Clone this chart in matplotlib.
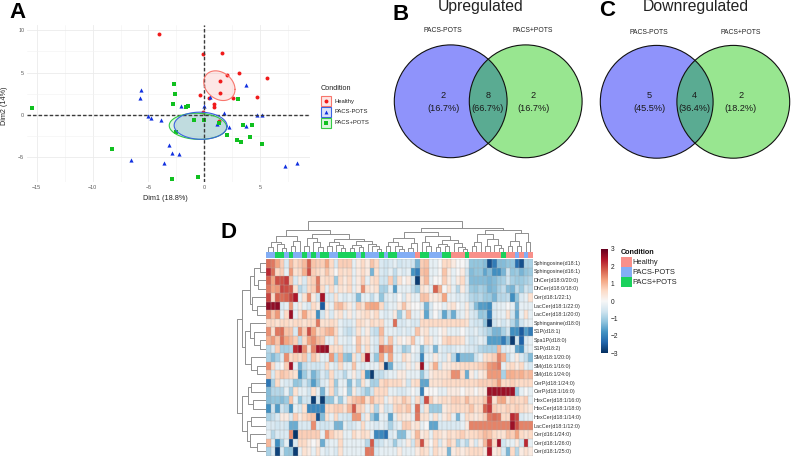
import numpy as np
import matplotlib
matplotlib.use("Agg")
import matplotlib.pyplot as plt
from matplotlib.colors import ListedColormap, FuncNorm
from matplotlib.patches import Circle, Rectangle

plt.rcParams['font.family'] = ['Liberation Sans', 'DejaVu Sans']

W, H = 792, 457

#%% PANEL A DATA
healthy_x = [-4.1, -0.1, 1.6, 3.1, 2.05, 5.6, 1.4, 1.4, -0.4, 0.4, 2.6, 4.7, 0.9, 0.9, -0.1, 1.35]
healthy_y = [9.5, 7.2, 7.35, 4.9, 4.7, 4.35, 4.05, 2.6, 2.3, 2.0, 2.0, 2.15, 1.35, 0.9, 0.3, -0.7]
minus_x = [-5.65, -5.75, -2.05, 0, 0.5, 3.75, 1.75, 4.7, 5.15, -5, -4.8, -3.9, 1.15, 2.25, 3.7,
           -3.2, -2.85, -2.3, -3.6, -6.6, 7.2, 8.3]
minus_y = [2.95, 2.0, 1.0, 1.0, 2.1, 3.5, 0.25, 0, 0.05, -0.1, -0.35, -0.6, -1.1, -1.4, -1.25,
           -3.55, -4.5, -4.6, -5.65, -5.3, -6.0, -5.7]
plus_x = [-15.45, -2.7, -2.6, -2.8, -1.6, -1.45, -0.95, 0, 1.35, 3.0, 3.5, 4.25, -2.55, 2.05,
          4.05, 2.9, 3.3, 5.2, -8.3, -0.55, -2.9]
plus_y = [0.85, 3.7, 2.5, 1.25, 0.95, 1.0, -0.6, -0.6, -1.0, 1.85, -1.2, -1.2, -2.05, -2.35,
          -2.55, -2.9, -3.2, -3.45, -4.05, -7.35, -7.5]
# centre x, centre y, half width, half height, tilt
ell_healthy = [1.35, 3.45, 1.4, 1.75, -0.25]
ell_minus = [-0.33, -1.27, 2.37, 1.6, -0.03]
ell_plus = [-0.57, -1.34, 2.57, 1.54, -0.06]

#%% VENN DATA
venn_up = [2, 8, 2]
venn_down = [5, 4, 2]

#%% HEATMAP DATA (tenths of a z score)
row_names = ['Sphingosine(d18:1)', 'Sphingosine(d16:1)', 'DhCer(d18:0/20:0)', 'DhCer(d18:0/18:0)',
             'Cer(d18:1/22:1)', 'LacCer(d18:1/22:0)', 'LacCer(d18:1/20:0)', 'Sphinganine(d18:0)',
             'S1P(d18:1)', 'Spa1P(d18:0)', 'S1P(d18:2)', 'SM(d18:1/20:0)', 'SM(d16:1/16:0)',
             'SM(d16:1/24:0)', 'CerP(d18:1/24:0)', 'CerP(d18:1/16:0)', 'HexCer(d18:1/16:0)',
             'HexCer(d18:1/18:0)', 'HexCer(d18:1/14:0)', 'LacCer(d18:1/12:0)', 'Cer(d16:1/24:0)',
             'Cer(d18:1/26:0)', 'Cer(d18:1/25:0)']
heat_rows = [
 [13,12,8,4,-2,6,3,4,6,14, 5,4,4,8,3,-2,4,4,4,-1, 1,3,1,5,3,-2,-3,-2,-1,-3, -2,-2,-3,-10,4,5,-1,-1,0,3, 3,1,0,0,-1,-8,-8,-8,-9,-25, -18,-9,-9,-8,-8,-20,-25,-6,-6],
 [20,13,3,4,-1,9,2,3,7,16, 4,3,2,5,2,0,3,2,3,-1, 1,3,1,-10,2,-2,-3,-1,-4,-1, -2,-1,-14,-18,5,6,-1,-1,0,5, 1,-1,0,1,-3,-9,-8,-8,-12,-9, -15,-15,-10,-3,-8,-7,-10,-8,-7],
 [14,8,16,16,18,5,-2,1,-2,3, 4,12,2,3,3,-7,3,1,3,-1, 1,4,-1,2,3,-3,-3,4,-5,2, 0,1,-3,-28,3,6,-1,0,0,4, 1,-1,1,3,-2,-9,-9,-9,-9,-10, -9,-7,-6,-3,-6,-7,-7,-6,-5],
 [12,8,9,17,16,15,2,-5,-3,3, 4,12,3,-1,3,-1,2,1,3,-1, 1,10,2,1,2,-6,-6,-1,-13,-1, -1,-1,-4,-7,2,1,-1,14,7,0, 2,-1,-5,1,-2,-7,-8,-6,-7,-10, -9,-6,-4,-9,-10,-4,-7,-3,-4],
 [17,3,14,13,14,17,22,-1,2,10, 1,-3,23,-2,-2,2,-1,-2,-1,-2, -9,-1,-1,-4,-1,-8,-2,-1,-2,0, -2,1,-1,-1,5,5,1,1,2,8, -1,-1,-2,-1,-2,-5,-6,-5,-7,-7, -10,-5,-5,-4,-15,-8,-2,-1,2],
 [26,25,26,-2,-1,9,-1,1,-1,-2, 3,1,-23,1,-1,5,6,3,1,-1, 4,2,7,8,8,3,-3,-1,-1,1, 5,1,0,0,-1,-10,-2,0,0,-1, 1,2,0,-1,1,-3,-9,-13,-13,-15, -2,-1,-1,0,-1,-10,-1,-1,-1],
 [10,5,9,-1,3,24,-1,2,8,3, 2,-15,-3,1,-2,1,2,-1,1,-1, 1,2,3,1,3,-1,-2,-1,1,-7, -1,5,-1,-1,1,-12,-2,0,-2,-12, -4,-11,-2,-1,1,-2,-3,-8,-7,-17, -2,-1,-1,2,-3,-12,-1,2,-1],
 [3,3,2,3,3,2,3,3,2,3, 3,12,2,2,3,2,-1,-2,-2,-1, 3,2,1,3,2,3,-1,-1,13,-2, -2,-1,-2,-2,3,3,3,3,3,3, 3,3,3,3,2,-2,-3,-3,-8,-28, -3,-1,-3,-1,-5,-10,-3,-1,-1],
 [10,2,12,13,5,5,-2,10,4,16, 8,3,4,6,7,3,-1,-3,-4,-2, 2,-1,1,-3,-4,6,-1,-1,-1,-2, -1,-2,-1,5,1,2,-1,-1,0,1, -1,-1,-1,0,-1,-2,-1,-3,-4,-6, -10,-10,-6,-3,-15,-15,-23,-13,-18],
 [7,9,5,13,8,6,4,-4,3,8, 10,6,5,-1,-1,3,-1,-1,-2,0, 5,1,2,-1,-2,4,-1,5,-1,1, 0,1,5,-1,0,3,1,-1,0,3, 4,3,3,2,-1,-3,-2,-1,-2,-13, -13,-13,-18,-10,-28,-3,-22,-2,-1],
 [-5,-2,4,-6,-6,-5,20,24,10,2, 11,23,24,25,3,2,3,-2,-2,-1, 5,-1,3,-1,-3,13,9,10,-1,-2, -7,-5,0,-1,-9,-3,-1,-10,-1,-2, -3,-2,-1,-1,-2,-2,-3,-5,-6,-6, -6,6,-2,-1,-1,-12,-15,-2,-1],
 [-6,-9,-6,-2,10,3,4,3,5,-3, 5,2,-1,-1,9,-5,6,-8,-9,2, -2,4,23,-2,-8,8,-1,8,-1,-1, 3,1,-1,-2,-16,-1,-1,1,-1,-2, 1,-5,-16,-9,-9,-9,-3,-1,2,3, 4,11,7,-4,-1,1,-2,-4,-9],
 [10,3,-1,0,4,23,-1,-10,-4,-2, -3,-3,-2,3,-1,-2,3,-1,-1,5, -1,-2,-1,-1,-1,3,-26,-11,-1,-2, -1,1,-1,1,24,-1,2,7,-2,1, 1,2,2,3,3,3,3,4,5,9, 10,12,-1,2,3,1,3,-1,-2],
 [5,-2,3,5,4,3,2,-15,-7,-3, -10,-6,-2,-4,3,-2,-2,-5,-1,1, -2,3,-14,-28,-4,-4,-2,-1,-1,1, 1,-1,-1,-1,-8,-2,1,2,2,2, 3,10,10,3,-11,1,-1,1,2,9, 9,9,-6,7,7,6,7,5,6],
 [-19,-6,3,-1,-2,-2,-8,-7,-3,-6, -13,-7,-2,-1,3,-7,-1,-1,-9,-1, -6,2,-1,-6,-6,3,4,3,3,3, 1,-3,2,3,-12,-12,2,2,2,3, 3,3,3,3,3,3,3,4,4,4, 5,9,3,3,4,3,3,3,3],
 [-9,-5,-5,-5,-1,-6,2,-1,-1,-3, 2,-1,-10,-1,3,-5,-1,0,-7,1, -2,-4,-7,-3,3,3,3,-1,-1,-2, -2,-1,0,-1,-17,0,0,0,-1,-1, 1,1,1,0,1,1,0,1,1,24, 24,24,24,24,24,-7,-1,0,-1],
 [-9,-8,-8,-9,-7,5,-1,-8,-3,-3, -28,-3,-28,-8,-8,-1,-7,-1,3,5, 6,8,2,6,3,3,-1,1,3,2, 5,3,-1,3,-4,16,4,1,2,3, 2,4,4,3,6,3,3,3,5,18, 2,7,8,2,4,3,3,4,-1],
 [-15,-3,-13,-3,-5,-14,-1,-2,2,-16, -16,-16,-16,3,3,4,4,2,6,15, 4,3,-1,2,-5,1,-3,-2,3,4, 3,5,-1,13,-2,2,-7,-7,-7,1, 2,3,3,3,3,5,2,3,14,18, 4,3,3,4,3,4,3,2,1],
 [-6,-4,-2,1,1,-2,4,1,3,4, 5,-25,-9,2,-1,3,-2,-2,-3,9, 9,-2,1,-7,-12,-1,-1,-12,-1,2, 1,1,-1,12,2,2,-1,2,-1,1, 3,-1,-10,-1,3,2,1,2,4,12, 13,12,3,3,20,17,-2,-1,-1],
 [-2,-2,-3,-2,-3,-11,-11,-2,-2,-2, 10,-2,-3,-3,-2,-10,-10,-1,-3,-2, -1,3,-1,-1,-2,-1,-2,-6,-2,-1, 4,4,1,2,-1,0,-12,-12,-2,-2, -2,-2,-2,-1,1,11,11,11,11,11, 11,11,11,11,24,16,11,11,11],
 [-1,-5,-2,-2,-2,10,-29,4,4,4, 4,4,-1,9,4,2,2,-1,-1,3, 1,3,2,-1,-16,-16,-20,-2,-1,-9, -9,-1,1,6,1,2,-1,3,2,1, 3,2,3,4,2,3,3,4,6,5, 3,2,2,5,4,8,3,2,3],
 [6,-1,-15,-6,-1,-26,-2,3,3,1, 0,1,-11,-2,-1,-1,3,-1,-1,-1, -1,-1,-5,15,-4,-3,-1,-2,-7,-2, -1,1,-3,4,16,2,0,3,-2,1, 4,2,-6,-2,-5,1,-2,1,6,16, 3,23,-3,-1,-1,1,-3,20,-1],
 [-6,-2,-27,-2,-8,-8,-28,-1,2,1, -1,2,-1,-2,-1,-2,2,-1,-1,-1, -1,-1,12,12,-2,-1,-1,-1,-1,1, -1,-1,-1,1,3,2,-1,3,1,1, -10,1,2,1,2,3,3,3,1,22, 1,2,-2,-10,3,-5,1,2,1],
]
# 0 healthy, 1 PACS-POTS, 2 PACS+POTS
col_groups = [1,1,2,2,1,2,1,1,2,1, 2,1,2,2,1,1,2,2,2,2, 1,2,1,1,1,2,1,2,2,1,
              1,1,1,0,2,2,1,1,1,2, 2,0,0,0,2,0,0,0,0,0, 0,0,2,0,0,1,0,1,0]
group_names = ['Healthy', 'PACS-POTS', 'PACS+POTS']
group_colors = ['#f8908a', '#83aef5', '#1ad15c']

# merge trees, (height, left, right), 0 is a leaf
col_a = (.5, (.3, (.15, 0, 0), (.25, 0, (.12, 0, 0))), (.35, (.2, 0, 0), 0))
col_b = (.45, (.2, 0, 0), (.3, 0, (.15, 0, 0)))
col_d = (.42, (.3, (.2, 0, 0), (.22, 0, (.12, 0, 0))),
         (.34, (.22, (.12, 0, 0), (.16, 0, 0)), (.25, 0, (.18, 0, (.1, 0, 0)))))
col_e = (.45, (.3, (.18, 0, 0), (.2, 0, (.1, 0, 0))), (.28, (.14, 0, 0), 0))
col_f = (.5, (.3, 0, (.2, 0, 0)), (.38, (.24, (.15, 0, 0), (.18, 0, 0)), (.28, 0, (.16, 0, (.1, 0, 0)))))
col_r = (.68, (.55, (.3, (.2, 0, 0), 0), (.4, (.18, 0, 0), (.22, 0, (.12, 0, 0)))),
         (.6, (.35, (.2, 0, 0), (.18, 0, 0)), (.3, 0, 0)))
col_tree = (.97, (.68, col_a, (.55, col_b, col_d)), (.75, (.62, col_e, col_f), col_r))
row_top = (.8, (.55, (.4, (.2, 0, 0), (.25, 0, 0)), (.45, 0, (.3, 0, 0))),
           (.7, (.55, 0, (.4, 0, (.2, 0, 0))), (.5, 0, (.3, 0, 0))))
row_bottom = (.8, (.6, (.5, 0, 0), (.44, 0, 0)), (.65, (.5, 0, 0), (.55, 0, (.3, 0, 0))))
row_tree = (1, row_top, row_bottom)


def px_axes(x0, y0, x1, y1):
    return fig.add_axes([x0 / W, 1 - y1 / H, (x1 - x0) / W, (y1 - y0) / H])


def ellipse_xy(e):
    t = np.linspace(0, 2 * np.pi, 200)
    return e[0] + e[2] * np.cos(t), e[1] + e[3] * np.cos(t + np.arccos(e[4]))


def draw_tree(ax, node, counter, sideways):
    if node == 0:
        counter[0] += 1
        return counter[0] - 0.5, 0
    h, left, right = node
    p0, h0 = draw_tree(ax, left, counter, sideways)
    p1, h1 = draw_tree(ax, right, counter, sideways)
    pos = [p0, p0, p1, p1]
    hts = [h0, h, h, h1]
    if sideways:
        ax.plot(hts, pos, color='#8f8f8f', lw=0.7)
    else:
        ax.plot(pos, hts, color='#8f8f8f', lw=0.7)
    return (p0 + p1) / 2, h


# pale cells in the picture read stronger than a plain RdBu, so stretch the middle
def stretch(v):
    v = np.asarray(v, dtype=float)
    return np.sign(v) * np.abs(v) ** 0.7


def unstretch(v):
    v = np.asarray(v, dtype=float)
    return np.sign(v) * np.abs(v) ** (1 / 0.7)


fig = plt.figure(figsize=(W / 100, H / 100), dpi=100)
canvas = fig.add_axes([0, 0, 1, 1], zorder=5)
canvas.set_xlim(0, W)
canvas.set_ylim(H, 0)
canvas.axis('off')

#%% PANEL A
ax = px_axes(27, 25, 310, 182)
ax.set_xlim(-15.87, 9.46)
ax.set_ylim(-7.9, 10.6)
ax.set_xticks([-15, -10, -5, 0, 5])
ax.set_yticks([-5, 0, 5, 10])
ax.set_xticks([-12.5, -7.5, -2.5, 2.5, 7.5], minor=True)
ax.set_yticks([-2.5, 2.5, 7.5], minor=True)
ax.grid(which='major', color='#ebebeb', lw=0.6)
ax.grid(which='minor', color='#f2f2f2', lw=0.4)
ax.set_axisbelow(True)
for s in ax.spines.values():
    s.set_visible(False)
ax.tick_params(which='both', length=0)
ax.tick_params(axis='both', labelsize=3.9, labelcolor='#5a5a5a', pad=2)
ax.axhline(0, color='#3a3a3a', lw=1, ls=(0, (2.5, 1.5)))
ax.axvline(0, color='#3a3a3a', lw=1, ls=(0, (2.5, 1.5)))
for e, c in [(ell_healthy, '#f8766d'), (ell_plus, '#35c944'), (ell_minus, '#3b62e0')]:
    ex, ey = ellipse_xy(e)
    ax.fill(ex, ey, color=c, alpha=0.17, lw=0)
    ax.plot(ex, ey, color=c, lw=0.8)
ax.scatter(healthy_x, healthy_y, marker='o', s=8, color='#f01a1a', lw=0)
ax.scatter(minus_x, minus_y, marker='^', s=9, color='#1030e0', lw=0)
ax.scatter(plus_x, plus_y, marker='s', s=7, color='#10c020', lw=0)
canvas.text(165, 198, 'Dim1 (18.8%)', fontsize=5.2, color='#222222', ha='center', va='center')
canvas.text(4.5, 106, 'Dim2 (14%)', fontsize=5.2, color='#222222', ha='center', va='center', rotation=90)

canvas.text(320.7, 89, 'Condition', fontsize=5.2, color='#222222', va='center')
key_marks = [('o', '#f01a1a', '#f8766d'), ('^', '#1030e0', '#3b62e0'), ('s', '#10c020', '#35c944')]
for i, (m, c, edge) in enumerate(key_marks):
    y = 101 + i * 10.9
    canvas.add_patch(Rectangle((321.3, y - 5), 9.6, 10, fc='white', ec=edge, lw=0.8))
    canvas.add_patch(Rectangle((321.3, y - 5), 9.6, 10, fc=edge, alpha=0.17, lw=0))
    canvas.scatter([326], [y], marker=m, s=8, color=c, lw=0)
    canvas.text(334.7, y, group_names[i], fontsize=4.2, color='#222222', va='center')

#%% PANELS B AND C
venn_panels = [(venn_up, 450.7, 525.7, 101.3, 'Upregulated', 480.7, [443, 488, 533], 443, 533, 31),
               (venn_down, 656.7, 733.3, 101.8, 'Downregulated', 696, [649, 694.7, 740.7], 649, 740.7, 32)]
for counts, cx0, cx1, cy, title, tx, lab_x, name0, name1, name_y in venn_panels:
    left = Circle((cx0, cy), 56.4, fc='#8f93fb', ec='none')
    right = Circle((cx1, cy), 56.4, fc='#98e690', ec='none')
    canvas.add_patch(left)
    canvas.add_patch(right)
    both = Circle((cx0, cy), 56.4, fc='#5aab92', ec='none')
    canvas.add_patch(both)
    both.set_clip_path(Circle((cx1, cy), 56.4, transform=canvas.transData))
    canvas.add_patch(Circle((cx0, cy), 56.4, fc='none', ec='#111111', lw=0.8))
    canvas.add_patch(Circle((cx1, cy), 56.4, fc='none', ec='#111111', lw=0.8))
    for n, x in zip(counts, lab_x):
        canvas.text(x, 95, str(n), fontsize=6.6, color='#1a1a1a', ha='center', va='center')
        canvas.text(x, 108.7, '(%.1f%%)' % (100 * n / sum(counts)), fontsize=6.6,
                    color='#1a1a1a', ha='center', va='center')
    canvas.text(name0, name_y, 'PACS-POTS', fontsize=4.9, color='#222222', ha='center', va='center')
    canvas.text(name1, name_y, 'PACS+POTS', fontsize=4.9, color='#222222', ha='center', va='center')
    canvas.text(tx, 7, title, fontsize=11.3, color='#222222', ha='center', va='center')

#%% PANEL D
heat = np.array(heat_rows) / 10
n_rows, n_cols = heat.shape
cmap = plt.get_cmap('RdBu_r')
heat_norm = FuncNorm((stretch, unstretch), vmin=-3, vmax=3)

hm = px_axes(266, 259, 532.7, 455.7)
hm.pcolormesh(heat, cmap=cmap, norm=heat_norm, linewidth=0, antialiased=False)
hm.vlines(np.arange(n_cols + 1), 0, n_rows, color='#a8a8a8', lw=0.35, alpha=0.75)
hm.hlines(np.arange(n_rows + 1), 0, n_cols, color='#a8a8a8', lw=0.35, alpha=0.75)
hm.set_xlim(0, n_cols)
hm.set_ylim(n_rows, 0)
hm.axis('off')

bar = px_axes(266, 252, 532.7, 258)
bar.pcolormesh(np.array([col_groups]), cmap=ListedColormap(group_colors), vmin=0, vmax=2,
               linewidth=0, antialiased=False)
bar.set_xlim(0, n_cols)
bar.axis('off')

top = px_axes(266, 220, 532.7, 252)
draw_tree(top, col_tree, [0], False)
top.set_xlim(0, n_cols)
top.set_ylim(0, 1)
top.axis('off')

side = px_axes(236, 259, 265.5, 455.7)
draw_tree(side, row_tree, [0], True)
side.set_xlim(1.02, 0)
side.set_ylim(n_rows, 0)
side.axis('off')

for i, name in enumerate(row_names):
    canvas.text(534, 259 + (i + 0.5) * 197 / n_rows, name, fontsize=3.9, color='#333333', va='center')

cb = px_axes(600.7, 249, 607.7, 353)
cb.imshow(np.linspace(3, -3, 256).reshape(-1, 1), cmap=cmap, vmin=-3, vmax=3, aspect='auto')
cb.axis('off')
for v in [3, 2, 1, 0, -1, -2, -3]:
    canvas.text(611, 302 - v * 17.4, str(v).replace('-', '\u2212'), fontsize=4.8, color='#222222', va='center')

canvas.text(621, 252, 'Condition', fontsize=5.2, fontweight='bold', color='#111111', va='center')
for i, name in enumerate(group_names):
    canvas.add_patch(Rectangle((620.7, 256.7 + i * 10), 11, 10, fc=group_colors[i], ec='none'))
    canvas.text(632.7, 262 + i * 10, name, fontsize=5.4, color='#222222', va='center')

#%% PANEL LETTERS
for letter, x, y in [('A', 9, 13), ('B', 392, 15), ('C', 599, 11), ('D', 221, 233)]:
    canvas.text(x, y, letter, fontsize=16, fontweight='bold', color='black', va='center')

fig.savefig('out.png', dpi=100)
